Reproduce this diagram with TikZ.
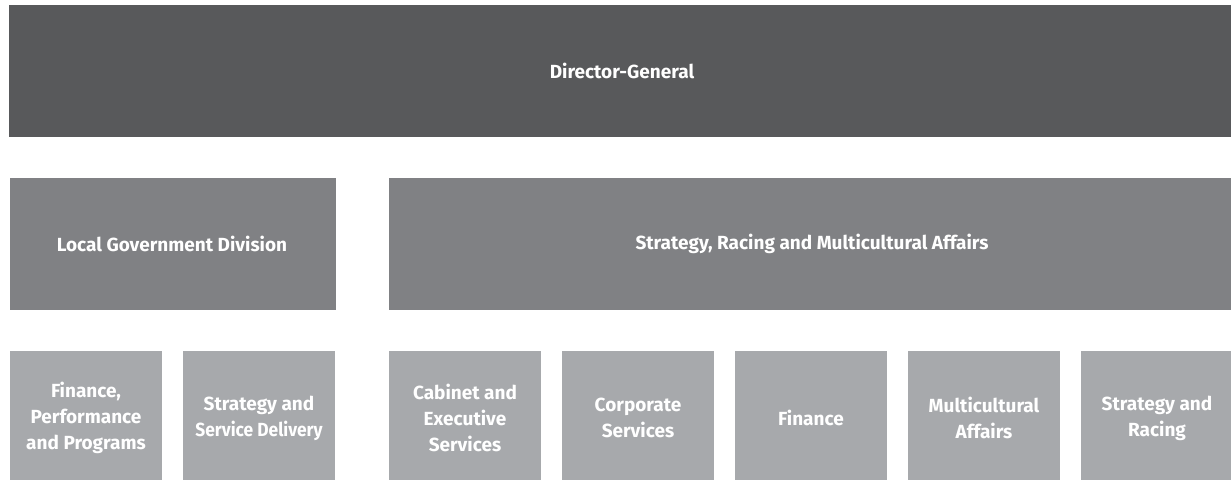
\documentclass[tikz,border=0pt]{standalone}
\usepackage{fontspec}
\setmainfont{Fira Sans}
\newfontfamily\narrowfs{Fira Sans}[FakeStretch=0.915]
\tikzset{
  box/.style={draw=none, inner sep=0pt, text=white, align=center,
    font=\bfseries\fontsize{19}{25}\selectfont},
  lvl1/.style={box, fill=c1},
  lvl2/.style={box, fill=c2},
  lvl3/.style={box, fill=c3, font=\bfseries\fontsize{19}{26}\selectfont},
}
\definecolor{c1}{HTML}{58595B}
\definecolor{c2}{HTML}{808184}
\definecolor{c3}{HTML}{A7A9AC}
\begin{document}
\begin{tikzpicture}[x=1pt,y=-1pt]
\useasboundingbox (0,0) rectangle (1231,480);
\fill[c1] (9,5) rectangle (1231,137);
\node[lvl1] (dg) at (622,71) {Director-General};
\fill[c2] (10,178) rectangle (336,310);
\node[lvl2] (lgd) at (172,244) {Local Government Division};
\fill[c2] (389,178) rectangle (1231,310);
\node[lvl2] (srma) at (812,244) {Strategy, Racing and Multicultural Affairs};
\foreach \x/\n/\t in {10/a/{Finance,\\Performance\\and Programs},183/b/{Strategy and\\{\narrowfs\bfseries Service Delivery}},389/c/{Cabinet and\\Executive\\Services},562/d/{Corporate\\Services},735/e/{Finance},908/f/{Multicultural\\Affairs},1081/g/{Strategy and\\Racing}}{
  \fill[c3] (\x,351) rectangle ({\x+152},480);
  \node[lvl3] (\n) at ({\x+76},418) {\t};
}
\end{tikzpicture}
\end{document}
